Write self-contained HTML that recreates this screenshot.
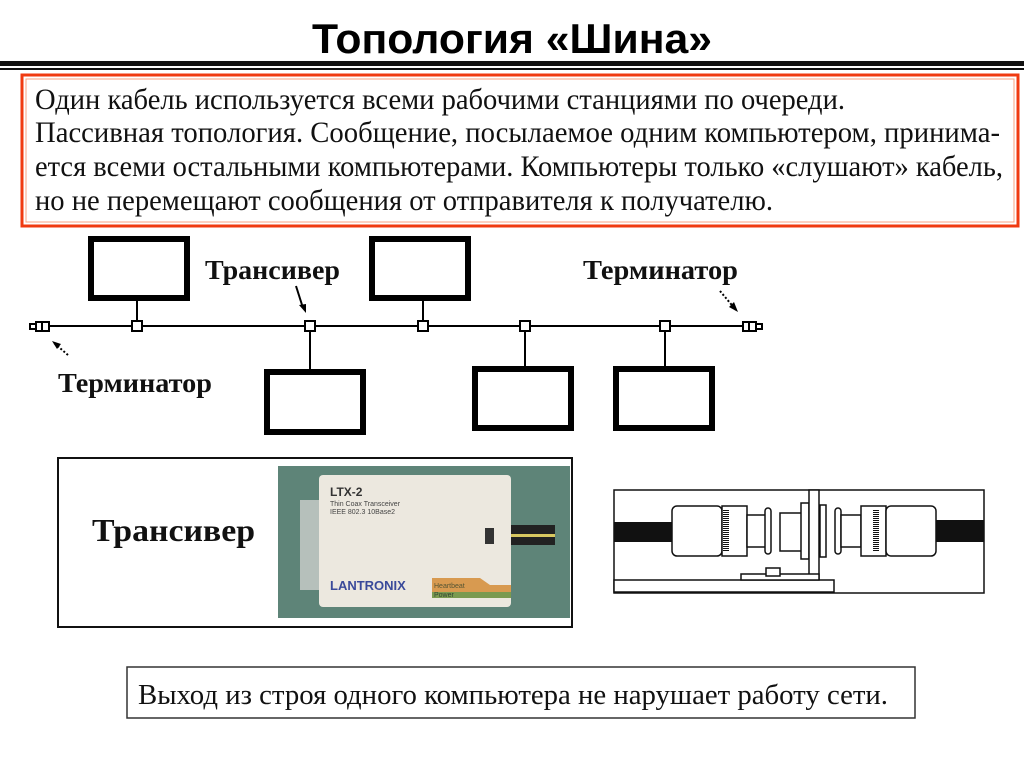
<!DOCTYPE html>
<html><head><meta charset="utf-8"><style>
html,body{margin:0;padding:0;background:#fff;}
svg{display:block;}
.s{font-family:"Liberation Serif","Noto Serif CJK SC",serif;}
.b{font-family:"Liberation Serif","Noto Serif CJK SC",serif;font-weight:bold;}
</style></head><body>
<svg width="1024" height="767" viewBox="0 0 1024 767" xmlns="http://www.w3.org/2000/svg">
<rect width="1024" height="767" fill="#fff"/>
<text x="312" y="53" font-family="Liberation Sans, sans-serif" font-weight="bold" font-size="42" textLength="400" lengthAdjust="spacingAndGlyphs">Топология  «Шина»</text>
<rect x="0" y="61" width="1024" height="5" fill="#111"/>
<rect x="0" y="68" width="1024" height="2" fill="#111"/>
<rect x="22" y="75" width="996" height="151" fill="none" stroke="#f03a10" stroke-width="3"/>
<rect x="26" y="79" width="988" height="143" fill="none" stroke="#f8a080" stroke-width="1"/>
<g class="s" font-size="30" fill="#111">
<text x="35" y="109" textLength="810" lengthAdjust="spacingAndGlyphs">Один кабель используется всеми рабочими станциями по очереди.</text>
<text x="35" y="142" textLength="965" lengthAdjust="spacingAndGlyphs">Пассивная топология. Сообщение, посылаемое одним компьютером, принима-</text>
<text x="35" y="176" textLength="968" lengthAdjust="spacingAndGlyphs">ется всеми остальными компьютерами. Компьютеры только «слушают» кабель,</text>
<text x="35" y="210" textLength="738" lengthAdjust="spacingAndGlyphs">но не перемещают сообщения от отправителя к получателю.</text>
</g>
<line x1="48" y1="326" x2="745" y2="326" stroke="#000" stroke-width="2"/>
<g fill="#fff" stroke="#000">
<rect x="91" y="239" width="96" height="59" stroke-width="6"/>
<rect x="372" y="239" width="96" height="59" stroke-width="6"/>
<rect x="267" y="372" width="96" height="60" stroke-width="6"/>
<rect x="475" y="369" width="96" height="59" stroke-width="6"/>
<rect x="616" y="369" width="96" height="59" stroke-width="6"/>
</g>
<g stroke="#000" stroke-width="2">
<line x1="137" y1="298" x2="137" y2="326"/>
<line x1="423" y1="298" x2="423" y2="326"/>
<line x1="310" y1="326" x2="310" y2="372"/>
<line x1="525" y1="326" x2="525" y2="369"/>
<line x1="665" y1="326" x2="665" y2="369"/>
</g>
<g fill="#fff" stroke="#000" stroke-width="2">
<rect x="132" y="321" width="10" height="10"/>
<rect x="305" y="321" width="10" height="10"/>
<rect x="418" y="321" width="10" height="10"/>
<rect x="520" y="321" width="10" height="10"/>
<rect x="660" y="321" width="10" height="10"/>
<rect x="36" y="322" width="13" height="9"/>
<rect x="30" y="324" width="6" height="5"/>
<line x1="42" y1="322" x2="42" y2="331"/>
<rect x="743" y="322" width="13" height="9"/>
<rect x="756" y="324" width="6" height="5"/>
<line x1="749" y1="322" x2="749" y2="331"/>
</g>
<g stroke="#000" stroke-width="2">
<line x1="296" y1="286" x2="303" y2="308"/>
<line x1="720" y1="291" x2="736" y2="310" stroke-dasharray="2,2"/>
<line x1="68" y1="355" x2="54" y2="343" stroke-dasharray="2,2"/>
</g>
<polygon points="306,313 299,305 306,304" fill="#000"/>
<polygon points="738,312 729,307 734,302" fill="#000"/>
<polygon points="52,341 61,344 57,349" fill="#000"/>
<g class="b" font-size="27" fill="#111">
<text x="205" y="279" textLength="135" lengthAdjust="spacingAndGlyphs">Трансивер</text>
<text x="583" y="279" textLength="155" lengthAdjust="spacingAndGlyphs">Терминатор</text>
<text x="58" y="392" textLength="154" lengthAdjust="spacingAndGlyphs">Терминатор</text>
</g>
<rect x="58" y="458" width="514" height="169" fill="#fff" stroke="#111" stroke-width="2"/>
<text class="b" x="92" y="541" font-size="32" fill="#111" textLength="163" lengthAdjust="spacingAndGlyphs">Трансивер</text>
<rect x="278" y="466" width="292" height="152" fill="#5e8478"/>
<rect x="300" y="500" width="22" height="90" fill="#b6c0bb"/>
<rect x="510" y="525" width="45" height="20" fill="#222"/>
<rect x="510" y="534" width="45" height="3" fill="#d8c860"/>
<rect x="319" y="475" width="192" height="132" rx="4" fill="#ece8df"/>
<text x="330" y="496" font-family="Liberation Sans, sans-serif" font-weight="bold" font-size="12" fill="#333">LTX-2</text>
<text x="330" y="506" font-family="Liberation Sans, sans-serif" font-size="7" fill="#444">Thin Coax Transceiver</text>
<text x="330" y="514" font-family="Liberation Sans, sans-serif" font-size="7" fill="#444">IEEE 802.3 10Base2</text>
<rect x="485" y="528" width="9" height="16" fill="#333"/>
<text x="330" y="590" font-family="Liberation Sans, sans-serif" font-weight="bold" font-size="13" fill="#3a4a9a">LANTRONIX</text>
<polygon points="432,578 480,578 490,585 511,585 511,592 432,592" fill="#d89a50"/>
<polygon points="432,592 511,592 511,598 432,598" fill="#7a9a50"/>
<text x="434" y="588" font-family="Liberation Sans, sans-serif" font-size="7" fill="#553">Heartbeat</text>
<text x="434" y="597" font-family="Liberation Sans, sans-serif" font-size="7" fill="#343">Power</text>
<rect x="614" y="490" width="370" height="103" fill="#fff" stroke="#111" stroke-width="1.5"/>
<rect x="614" y="522" width="60" height="20" fill="#111"/>
<rect x="935" y="520" width="49" height="22" fill="#111"/>
<g fill="#fff" stroke="#111" stroke-width="1.5">
<rect x="672" y="506" width="50" height="50" rx="5"/>
<rect x="722" y="506" width="25" height="50"/>
<rect x="747" y="515" width="20" height="32"/>
<rect x="765" y="508" width="6" height="46" rx="3"/>
<rect x="780" y="513" width="25" height="38"/>
<rect x="801" y="503" width="8" height="56"/>
<rect x="809" y="490" width="10" height="90"/>
<rect x="820" y="505" width="6" height="52"/>
<rect x="835" y="508" width="6" height="46" rx="3"/>
<rect x="841" y="515" width="20" height="32"/>
<rect x="861" y="506" width="25" height="50"/>
<rect x="886" y="506" width="50" height="50" rx="5"/>
<rect x="614" y="580" width="220" height="12"/>
<rect x="741" y="574" width="78" height="6"/>
<rect x="766" y="568" width="14" height="8"/>
</g>
<g stroke="#111" stroke-width="1">
<line x1="726" y1="510" x2="726" y2="552" stroke-width="6" stroke-dasharray="1,1"/>
<line x1="876" y1="510" x2="876" y2="552" stroke-width="6" stroke-dasharray="1,1"/>
</g>
<rect x="127" y="667" width="788" height="51" fill="#fff" stroke="#333" stroke-width="1.5"/>
<text class="s" x="138" y="704" font-size="29" fill="#111" textLength="750" lengthAdjust="spacingAndGlyphs">Выход из строя одного компьютера не нарушает работу сети.</text>
</svg>
</body></html>
